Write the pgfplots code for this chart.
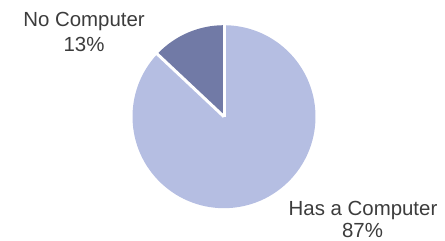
\documentclass[border=0pt]{standalone}
\usepackage{pgfplots}
\pgfplotsset{compat=1.18}
\usepackage{fontspec}
\setmainfont{Liberation Sans}
\definecolor{sliceA}{HTML}{B5BEE2}
\definecolor{sliceB}{HTML}{717AA6}
\definecolor{txt}{HTML}{3C3C3C}
% pie data (percent)
\def\valNo{13}
\def\valHas{87}
\def\cx{224}
\def\cy{124.3}
\def\R{91.5bp}
\begin{document}
\begin{tikzpicture}
\begin{axis}[
  hide axis, scale only axis, width=445bp, height=241bp,
  xmin=0, xmax=445, ymin=0, ymax=241, clip=false,
]
\coordinate (ll) at (axis cs:0,0);
\coordinate (ur) at (axis cs:445,241);
% No Computer slice: from 90 deg counterclockwise
\fill[sliceB] (axis cs:\cx,\cy) -- ++(90:\R) arc[start angle=90, delta angle={3.6*\valNo}, radius=\R] -- cycle;
% Has a Computer slice
\fill[sliceA] (axis cs:\cx,\cy) -- ++({90+3.6*\valNo}:\R) arc[start angle={90+3.6*\valNo}, delta angle={3.6*\valHas}, radius=\R] -- cycle;
% separators
\draw[white, line width=3bp] (axis cs:\cx,\cy) -- ++(90:\R+1bp);
\draw[white, line width=3bp] (axis cs:\cx,\cy) -- ++({90+3.6*\valNo}:\R+1bp);
% labels
\node[anchor=base, text=txt, font=\fontsize{20.5}{24}\selectfont, inner sep=0pt] at (axis cs:84,214.3) {No Computer};
\node[anchor=base, text=txt, font=\fontsize{20.5}{24}\selectfont, inner sep=0pt] at (axis cs:84,189.3) {13\%};
\node[anchor=base, text=txt, font=\fontsize{20.5}{24}\selectfont, inner sep=0pt] at (axis cs:363,25) {Has a Computer};
\node[anchor=base, text=txt, font=\fontsize{20.5}{24}\selectfont, inner sep=0pt] at (axis cs:362.5,3) {87\%};
\end{axis}
\pgfresetboundingbox
\useasboundingbox (ll) rectangle (ur);
\end{tikzpicture}
\end{document}
